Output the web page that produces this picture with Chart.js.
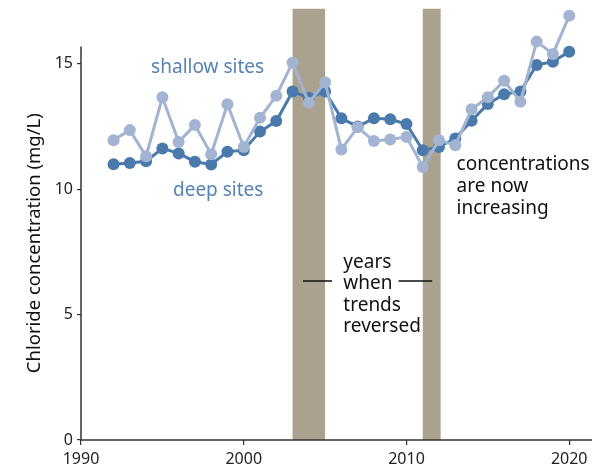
<!DOCTYPE html>
<html>
<head>
<meta charset="utf-8">
<script src="https://cdn.jsdelivr.net/npm/chart.js@4/dist/chart.umd.min.js"></script>
<style>
  html, body { margin: 0; padding: 0; background: #fff; }
  #wrap { width: 608px; height: 470px; }
</style>
</head>
<body>
<div id="wrap"><canvas id="chlorideChart" width="608" height="470"></canvas></div>
<script>
// Datos
const years = [1992, 1993, 1994, 1995, 1996, 1997, 1998, 1999, 2000, 2001,
               2002, 2003, 2004, 2005, 2006, 2007, 2008, 2009, 2010, 2011,
               2012, 2013, 2014, 2015, 2016, 2017, 2018, 2019, 2020];
const deepSites = [11.0, 11.05, 11.12, 11.63, 11.43, 11.1, 10.99, 11.5, 11.56, 12.3,
                   12.72, 13.9, 13.65, 13.9, 12.83, 12.5, 12.83, 12.79, 12.6, 11.56,
                   11.69, 12.03, 12.73, 13.4, 13.79, 13.9, 14.96, 15.09, 15.49];
const shallowSites = [11.96, 12.36, 11.32, 13.67, 11.89, 12.56, 11.4, 13.39, 11.69, 12.85,
                      13.73, 15.05, 13.45, 14.27, 11.59, 12.47, 11.93, 11.99, 12.09, 10.89,
                      11.96, 11.76, 13.19, 13.67, 14.33, 13.49, 15.89, 15.4, 16.92];
// Periodos en que la tendencia se invirtió
const reversalStart = [2003, 2011];
const reversalEnd = [2005, 2012.1];
const reversalTop = 17.2;

const xTicks = [1990, 2000, 2010, 2020];
const yTicks = [0, 5, 10, 15];
const yAxisTop = 15.7;

const FONT = '"Noto Sans", sans-serif';
const DARK = '#4a7aab';
const LIGHT = '#a3b4d2';
const LABEL = '#5683b3';
const BAND = '#aaa28e';

const bandsPlugin = {
    id: 'bands',
    beforeDatasetsDraw(chart) {
        const { ctx, scales: { x, y } } = chart;
        ctx.save();
        ctx.fillStyle = BAND;
        reversalStart.forEach((s, i) => {
            const x0 = x.getPixelForValue(s);
            const x1 = x.getPixelForValue(reversalEnd[i]);
            const y0 = y.getPixelForValue(reversalTop);
            const y1 = y.getPixelForValue(0);
            ctx.fillRect(x0, y0, x1 - x0, y1 - y0);
        });
        // ejes
        ctx.strokeStyle = '#333';
        ctx.lineWidth = 1.5;
        ctx.beginPath();
        ctx.moveTo(x.left, y.getPixelForValue(yAxisTop));
        ctx.lineTo(x.left, y.bottom);
        ctx.lineTo(x.right, y.bottom);
        ctx.stroke();
        ctx.restore();
    },
    afterDraw(chart) {
        const { ctx, scales: { x, y } } = chart;
        ctx.save();
        ctx.font = '19px ' + FONT;
        ctx.textBaseline = 'middle';

        ctx.fillStyle = LABEL;
        ctx.textAlign = 'center';
        ctx.fillText('shallow sites', x.getPixelForValue(1997.78), y.getPixelForValue(14.84));
        ctx.fillText('deep sites', x.getPixelForValue(1998.43), y.getPixelForValue(9.96));

        ctx.fillStyle = '#111';
        ctx.textAlign = 'left';
        ['concentrations', 'are now', 'increasing'].forEach((t, i) => {
            ctx.fillText(t, x.getPixelForValue(2013.08), y.getPixelForValue(11.0) + i * 22);
        });
        ['years', 'when', 'trends', 'reversed'].forEach((t, i) => {
            ctx.fillText(t, x.getPixelForValue(2006.12), y.getPixelForValue(7.08) + i * 21.5);
        });

        ctx.strokeStyle = '#111';
        ctx.lineWidth = 1.5;
        const ly = y.getPixelForValue(6.34);
        ctx.beginPath();
        ctx.moveTo(x.getPixelForValue(2003.64), ly);
        ctx.lineTo(x.getPixelForValue(2005.43), ly);
        ctx.moveTo(x.getPixelForValue(2009.51), ly);
        ctx.lineTo(x.getPixelForValue(2011.58), ly);
        ctx.stroke();

        // título del eje y
        ctx.fillStyle = '#111';
        ctx.textAlign = 'center';
        ctx.font = '18.5px ' + FONT;
        ctx.translate(35, (y.getPixelForValue(yAxisTop) + y.bottom) / 2);
        ctx.rotate(-Math.PI / 2);
        ctx.fillText('Chloride concentration (mg/L)', 0, 0);
        ctx.restore();
    }
};

const toPoints = vals => vals.map((v, i) => ({ x: years[i], y: v }));

new Chart(document.getElementById('chlorideChart').getContext('2d'), {
    type: 'line',
    data: {
        datasets: [{
            label: 'shallow sites',
            data: toPoints(shallowSites),
            borderColor: LIGHT,
            backgroundColor: LIGHT,
            borderWidth: 3,
            pointRadius: 6,
            pointBorderWidth: 0,
            tension: 0,
            order: 0
        }, {
            label: 'deep sites',
            data: toPoints(deepSites),
            borderColor: DARK,
            backgroundColor: DARK,
            borderWidth: 3,
            pointRadius: 6,
            pointBorderWidth: 0,
            tension: 0,
            order: 1
        }]
    },
    options: {
        responsive: false,
        animation: false,
        layout: { autoPadding: false, padding: { top: 0, right: 16, bottom: 0, left: 0 } },
        plugins: {
            legend: { display: false },
            tooltip: { enabled: false }
        },
        scales: {
            x: {
                type: 'linear',
                min: 1990,
                max: 2021.4,
                afterBuildTicks: s => { s.ticks = xTicks.map(v => ({ value: v })); },
                afterFit: s => { s.height = 30; s.paddingLeft = 0; s.paddingRight = 0; },
                border: { display: false },
                grid: { drawOnChartArea: false, tickLength: 5, color: '#333', lineWidth: 1.2 },
                ticks: { font: { family: FONT, size: 16 }, color: '#222', padding: 5, callback: v => String(v) }
            },
            y: {
                min: 0,
                max: 17.55,
                afterBuildTicks: s => { s.ticks = yTicks.map(v => ({ value: v })); },
                afterFit: s => { s.width = 81; s.paddingTop = 0; s.paddingBottom = 0; },
                border: { display: false },
                grid: { drawOnChartArea: false, tickLength: 4, color: '#333', lineWidth: 1.2 },
                ticks: { font: { family: FONT, size: 16 }, color: '#222', padding: 4 }
            }
        }
    },
    plugins: [bandsPlugin]
});
</script>
</body>
</html>
